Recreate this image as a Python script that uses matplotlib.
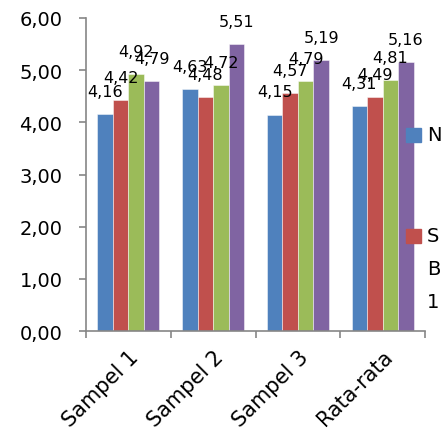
import matplotlib
matplotlib.use("Agg")
import matplotlib.pyplot as plt
from matplotlib.patches import Rectangle
import numpy as np

plt.rcParams['font.family'] = ['DejaVu Sans']

categories = ["Sampel 1", "Sampel 2", "Sampel 3", "Rata-rata"]
series_n = [4.16, 4.63, 4.15, 4.31]
series_sb1 = [4.42, 4.48, 4.57, 4.49]
series_3 = [4.92, 4.72, 4.79, 4.81]
series_4 = [4.79, 5.51, 5.19, 5.16]
series_values = [series_n, series_sb1, series_3, series_4]
series_colors = ["#4F81BD", "#C0504D", "#9BBB59", "#8064A2"]
legend_labels = ["N", "S\nB\n1"]
y_ticks = [0, 1, 2, 3, 4, 5, 6]

fig = plt.figure(figsize=(4.45, 4.39), dpi=100)
ax = fig.add_axes([86 / 445, 1 - 332 / 439, (425 - 86) / 445, (332 - 19) / 439])

x = np.arange(len(categories))
bar_w = 0.183
axis_gray = "#868686"

for i, (vals, col) in enumerate(zip(series_values, series_colors)):
    pos = x + (i - 1.5) * bar_w
    ax.bar(pos, vals, width=bar_w, color=col, edgecolor=(1, 1, 1, 0.55),
           linewidth=0.6, zorder=2)
    for px, v in zip(pos, vals):
        ax.annotate(f"{v:.2f}".replace(".", ","), (px, v), xytext=(0, 13),
                    textcoords="offset points", ha="center", va="baseline",
                    fontsize=11.5, color="black", zorder=3)

ax.set_xlim(-0.5, len(categories) - 0.5)
ax.set_ylim(0, 6)
ax.set_yticks(y_ticks)
ax.set_yticklabels([f"{t:.2f}".replace(".", ",") for t in y_ticks], fontsize=14)

# category boundaries carry the tick marks, names sit at the centres
ax.set_xticks(np.arange(len(categories) + 1) - 0.5)
ax.set_xticklabels([])
ax.set_xticks(x, minor=True)
ax.set_xticklabels(categories, minor=True, rotation=45, ha="right",
                   rotation_mode="anchor", fontsize=15)
ax.tick_params(axis="x", which="minor", length=0, pad=11)
ax.tick_params(axis="x", which="major", length=5, width=1.2, color=axis_gray)
ax.tick_params(axis="y", length=5, width=1.2, color=axis_gray, pad=12)

for s in ("top", "right"):
    ax.spines[s].set_visible(False)
for s in ("left", "bottom"):
    ax.spines[s].set_color(axis_gray)
    ax.spines[s].set_linewidth(1.2)

# legend keys on the right edge
key_specs = [(series_colors[0], legend_labels[0], 136), (series_colors[1], legend_labels[1], 237)]
for col, lab, yc in key_specs:
    fig.patches.append(Rectangle((406 / 445, 1 - (yc + 7) / 439), 15 / 445, 14 / 439,
                                 transform=fig.transFigure, color=col))
    fig.text(427 / 445, 1 - (yc - 10) / 439, lab, ha="left", va="top",
             fontsize=14, linespacing=1.95)

fig.savefig("out.png", dpi=100)
